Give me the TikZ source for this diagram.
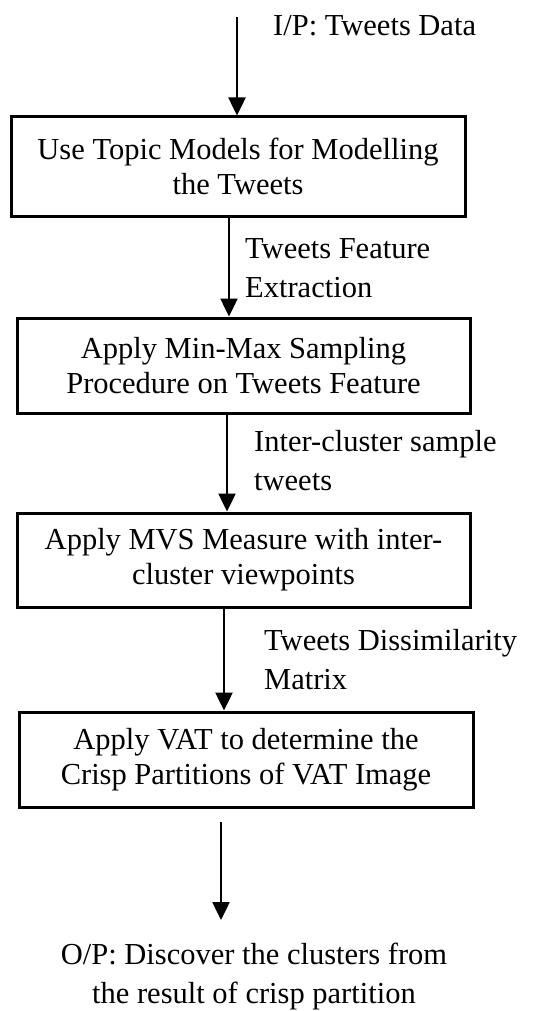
\documentclass[tikz,border=0pt]{standalone}
\usepackage{fontspec}
\setmainfont{Liberation Serif}
\usetikzlibrary{arrows.meta}
\begin{document}
\begin{tikzpicture}[x=1pt,y=-1pt,
  box/.style={draw,line width=3pt,align=center,inner sep=0pt,font=\fontsize{30.5}{35}\selectfont},
  lbl/.style={align=left,inner sep=0pt,font=\fontsize{30.5}{39}\selectfont},
  arr/.style={line width=2.5pt,-{Triangle[width=17pt,length=18pt]}}]
\useasboundingbox (0,0) rectangle (538,1011);
\node[box,minimum width=454pt,minimum height=99pt] (b1) at (238,166.5) {Use Topic Models for Modelling\\the Tweets};
\node[box,minimum width=453pt,minimum height=95pt] (b2) at (243.5,365.5) {Apply Min-Max Sampling\\Procedure on Tweets Feature};
\node[box,minimum width=453pt,minimum height=94pt] (b3) at (243.5,560) {Apply MVS Measure with inter-\\cluster viewpoints};
\node[box,minimum width=454pt,minimum height=95pt] (b4) at (246,759.5) {Apply VAT to determine the\\Crisp Partitions of VAT Image};
\coordinate (in) at (237,17);
\node[lbl,anchor=west] (lin) at (273,26) {I/P: Tweets Data};
\node[lbl,anchor=west] (l2) at (245,268) {Tweets Feature\\Extraction};
\node[lbl,anchor=west] (l3) at (254,461) {Inter-cluster sample\\tweets};
\node[lbl,anchor=west] (l4) at (264,660) {Tweets Dissimilarity\\Matrix};
\node[lbl,align=center,anchor=north] (out) at (254,943) {O/P: Discover the clusters from\\the result of crisp partition};
\coordinate (o1) at (221,822);
\coordinate (o2) at (221,920);
\draw[arr] (in) -- (in |- b1.north);
\draw[arr] ([xshift=-9pt]b1.south) -- ([xshift=-9pt]b1.south |- b2.north);
\draw[arr] ([xshift=-16.5pt]b2.south) -- ([xshift=-16.5pt]b2.south |- b3.north);
\draw[arr] ([xshift=-19.5pt]b3.south) -- ([xshift=-19.5pt]b3.south |- b4.north);
\draw[arr] (o1) -- (o2);
\end{tikzpicture}
\end{document}
